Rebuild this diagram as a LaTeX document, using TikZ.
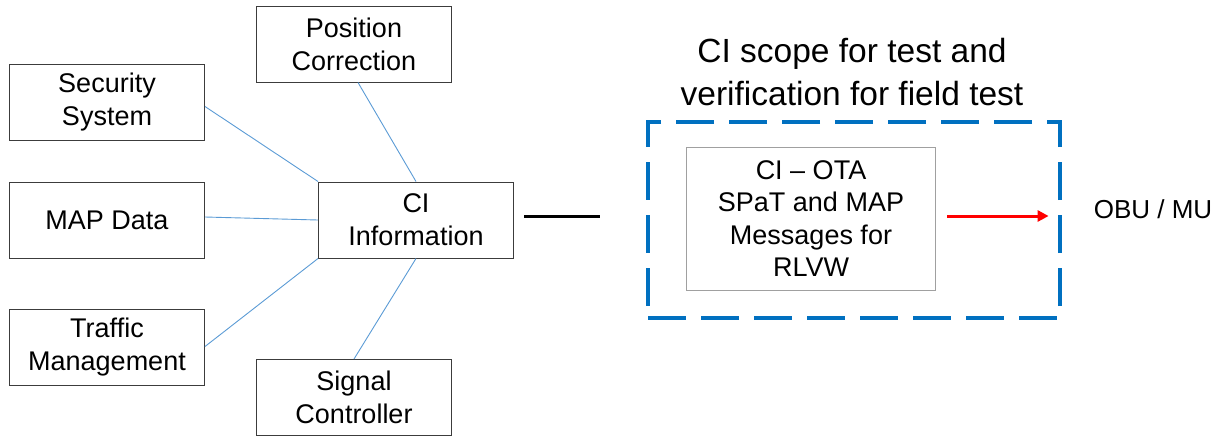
\documentclass[tikz,border=0pt]{standalone}
\usepackage{fontspec}
\setmainfont{Liberation Sans}
\usetikzlibrary{arrows.meta,calc}
\definecolor{linkblue}{RGB}{91,155,213}
\definecolor{scopeblue}{RGB}{0,112,192}
\definecolor{boxgray}{RGB}{60,60,60}
\definecolor{innergray}{RGB}{160,160,160}
\definecolor{arrowred}{RGB}{255,0,0}
\begin{document}
\begin{tikzpicture}[x=1pt,y=-1pt,
  srcbox/.style={draw=boxgray, line width=1pt, minimum width=195pt, minimum height=76pt,
    inner sep=0pt, align=center, font=\fontsize{27}{33}\selectfont},
  link/.style={draw=linkblue, line width=0.9pt},
  scopebox/.style={draw=scopeblue, line width=3.2pt, dash pattern=on 38pt off 15pt,
    minimum width=412pt, minimum height=196pt, inner sep=0pt},
  otabox/.style={draw=innergray, line width=1pt, minimum width=249pt, minimum height=143pt,
    inner sep=0pt, align=center, font=\fontsize{27}{32.5}\selectfont},
  labeltext/.style={inner sep=0pt, align=center}
]
\useasboundingbox (0,0) rectangle (1217,437);

\node[srcbox] (pos) at (354,44) {Position\\Correction};
\node[srcbox] (sec) at (107,102.5) {Security\\System};
\node[srcbox] (map) at (107,220) {MAP Data};
\node[srcbox] (traf) at (107,347.5) {Traffic\\Management};
\node[srcbox] (ci) at (416,220) {CI\\Information};
\node[srcbox] (sig) at (354,397.5) {Signal\\Controller};

\draw[link] ([yshift=-4pt]sec.east) -- (ci.north west);
\draw[link] ([xshift=4pt]pos.south) -- (ci.north);
\draw[link] ([yshift=3pt]map.east) -- (ci.west);
\draw[link] ([yshift=1pt]traf.east) -- (ci.south west);
\draw[link] (sig.north) -- (ci.south);

\node[labeltext, font=\fontsize{33.5}{43}\selectfont] (title) at (852,72)
  {CI scope for test and\\verification for field test};
\node[scopebox] (scope) at (854,220) {};
\node[otabox] (ota) at (811,218.5) {CI -- OTA\\SPaT and MAP\\Messages for\\RLVW};
\node[labeltext, font=\fontsize{26}{30}\selectfont] (obu) at (1153,209) {OBU / MU};

\draw[black, line width=3pt, shorten <=10pt, shorten >=46pt]
  ([yshift=4pt]ci.east) -- ([yshift=4pt]scope.west);
\draw[arrowred, line width=3pt, shorten <=11pt, shorten >=13pt,
  -{Triangle[length=11pt,width=11pt]}]
  ([yshift=2.5pt]ota.east) -- ([yshift=4pt]scope.east);
\end{tikzpicture}
\end{document}
